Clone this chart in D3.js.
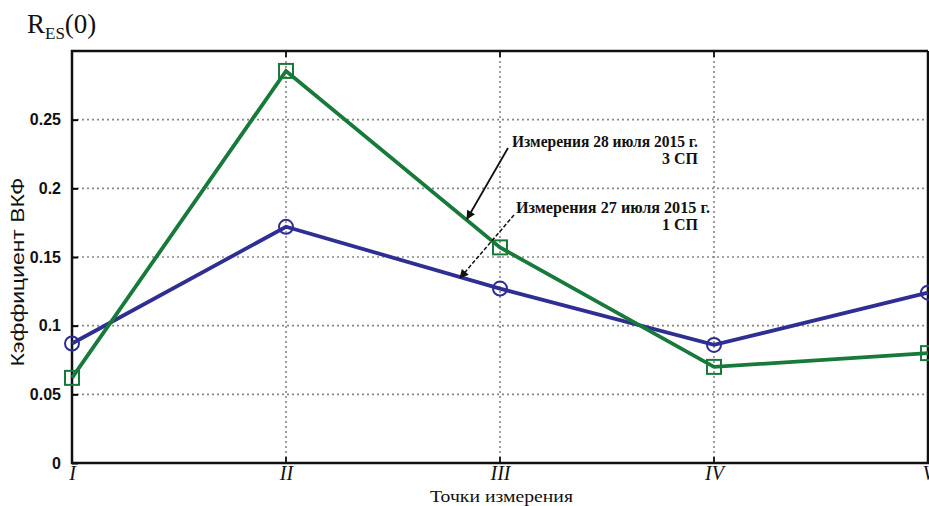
<!DOCTYPE html>
<html>
<head>
<meta charset="utf-8">
<script src="https://cdn.jsdelivr.net/npm/d3@7"></script>
<style>
  html, body { margin: 0; padding: 0; background: #fff; }
  svg { display: block; }
</style>
</head>
<body>
<svg id="chart" width="929" height="506"></svg>
<script>
// Measurement points and cross-correlation coefficients
const points = ["I", "II", "III", "IV", "V"];
const series27 = [0.087, 0.172, 0.127, 0.086, 0.124];   // 27 July 2015, 1 СП (circles)
const series28 = [0.062, 0.2855, 0.157, 0.070, 0.080];  // 28 July 2015, 3 СП (squares)
const yTicks = [0, 0.05, 0.1, 0.15, 0.2, 0.25];
const yTickLabels = ["0", "0.05", "0.1", "0.15", "0.2", "0.25"];

const svg = d3.select("#chart");
const margin = { left: 72, right: 1, top: 51, bottom: 43 };
const W = 929, H = 506;

const x = d3.scalePoint().domain(points).range([margin.left, W - margin.right]);
const y = d3.scaleLinear().domain([0, 0.3]).range([H - margin.bottom, margin.top]);

const blue = "#2f2e93";
const green = "#17793a";

// Dotted grid
const grid = svg.append("g");
grid.selectAll("line.h").data(yTicks.slice(1)).join("line")
  .attr("x1", margin.left).attr("x2", W - margin.right)
  .attr("y1", d => y(d)).attr("y2", d => y(d))
  .attr("stroke", "#888").attr("stroke-width", 1.6).attr("stroke-dasharray", "2,3");
grid.selectAll("line.v").data(points.slice(1, -1)).join("line")
  .attr("x1", d => x(d)).attr("x2", d => x(d))
  .attr("y1", margin.top).attr("y2", H - margin.bottom)
  .attr("stroke", "#888").attr("stroke-width", 1.6).attr("stroke-dasharray", "2,3");

// Axes
const yAxis = svg.append("g").attr("transform", `translate(${margin.left},0)`)
  .call(d3.axisLeft(y).tickValues(yTicks).tickFormat((d, i) => yTickLabels[i]).tickSize(6).tickPadding(5));
yAxis.select(".domain").remove();
yAxis.selectAll(".tick line").attr("x2", 6).attr("stroke-width", 2);
yAxis.selectAll("text").attr("font-family", "Liberation Sans Narrow, Liberation Sans, Arial, sans-serif")
  .attr("font-weight", "bold").attr("font-size", 16).attr("fill", "#111");

const xAxis = svg.append("g").attr("transform", `translate(0,${H - margin.bottom})`)
  .call(d3.axisBottom(x).tickSize(0).tickPadding(3));
xAxis.select(".domain").remove();
xAxis.selectAll("text").attr("font-family", "Liberation Serif, Times New Roman, serif")
  .attr("font-style", "italic").attr("font-size", 20).attr("fill", "#111").attr("dy", "0.72em");

// Tick marks on top and bottom edges
svg.selectAll("line.tt").data(points.slice(1, -1)).join("line")
  .attr("x1", d => x(d)).attr("x2", d => x(d))
  .attr("y1", margin.top).attr("y2", margin.top + 6)
  .attr("stroke", "#222").attr("stroke-width", 2);
svg.selectAll("line.bt").data(points.slice(1, -1)).join("line")
  .attr("x1", d => x(d)).attr("x2", d => x(d))
  .attr("y1", H - margin.bottom).attr("y2", H - margin.bottom - 6)
  .attr("stroke", "#222").attr("stroke-width", 2);

// Frame
const frame = d3.path();
frame.moveTo(W - margin.right, margin.top);
frame.lineTo(margin.left, margin.top);
frame.lineTo(margin.left, H - margin.bottom);
frame.lineTo(W - margin.right, H - margin.bottom);
frame.lineTo(W - margin.right, margin.top);
svg.append("path").attr("d", frame.toString()).attr("fill", "none")
  .attr("stroke", "#111").attr("stroke-width", 2.5);

// Series lines
const line = d3.line().x((d, i) => x(points[i])).y(d => y(d));
svg.append("path").datum(series27).attr("d", line).attr("fill", "none")
  .attr("stroke", blue).attr("stroke-width", 3.8);
svg.append("path").datum(series28).attr("d", line).attr("fill", "none")
  .attr("stroke", green).attr("stroke-width", 3.8);

// Markers
svg.selectAll("circle.m").data(series27).join("circle")
  .attr("cx", (d, i) => x(points[i])).attr("cy", d => y(d)).attr("r", 7)
  .attr("fill", "none").attr("stroke", blue).attr("stroke-width", 2);
svg.selectAll("rect.m").data(series28).join("rect")
  .attr("x", (d, i) => x(points[i]) - 7).attr("y", d => y(d) - 7)
  .attr("width", 14).attr("height", 14)
  .attr("fill", "none").attr("stroke", green).attr("stroke-width", 2);

// Annotations
const defs = svg.append("defs");
defs.append("marker").attr("id", "arrow").attr("viewBox", "0 0 10 10")
  .attr("refX", 9).attr("refY", 5).attr("markerWidth", 10).attr("markerHeight", 9)
  .attr("orient", "auto").attr("markerUnits", "userSpaceOnUse")
  .append("path").attr("d", "M0,0 L10,5 L0,10 z").attr("fill", "#111");

const annFont = "Liberation Serif, Times New Roman, serif";
function note(text, xl, y0, len) {
  svg.append("text").attr("font-family", annFont).attr("font-weight", "bold")
    .attr("font-size", 16).attr("fill", "#111")
    .attr("x", xl).attr("y", y0)
    .attr("textLength", len).attr("lengthAdjust", "spacingAndGlyphs").text(text);
}
function noteRight(text, xr, y0) {
  svg.append("text").attr("font-family", annFont).attr("font-weight", "bold")
    .attr("font-size", 16).attr("fill", "#111").attr("text-anchor", "end")
    .attr("x", xr).attr("y", y0).text(text);
}
note("Измерения 28 июля 2015 г.", 512, 147, 186);
noteRight("3 СП", 698, 164);
note("Измерения 27 июля 2015 г.", 516, 213, 194);
noteRight("1 СП", 698, 230);

svg.append("line").attr("x1", 508).attr("y1", 148).attr("x2", 467).attr("y2", 219)
  .attr("stroke", "#111").attr("stroke-width", 1.8).attr("marker-end", "url(#arrow)");
svg.append("line").attr("x1", 514).attr("y1", 215).attr("x2", 460).attr("y2", 278)
  .attr("stroke", "#111").attr("stroke-width", 1.5).attr("stroke-dasharray", "4,2")
  .attr("marker-end", "url(#arrow)");

// Titles
const ttl = svg.append("text").attr("x", 27).attr("y", 33)
  .attr("font-family", annFont).attr("font-size", 27).attr("fill", "#111");
ttl.append("tspan").text("R");
ttl.append("tspan").attr("font-size", 17).attr("dy", 6).text("ES");
ttl.append("tspan").attr("dy", -6).text("(0)");

svg.append("text").attr("transform", "translate(24,272) rotate(-90)")
  .attr("text-anchor", "middle").attr("font-family", "Liberation Sans, Arial, sans-serif")
  .attr("font-size", 18).attr("fill", "#111")
  .attr("textLength", 189).attr("lengthAdjust", "spacingAndGlyphs")
  .text("Кэффициент ВКФ");

svg.append("text").attr("x", 430).attr("y", 502)
  .attr("font-family", annFont).attr("font-size", 16).attr("fill", "#111")
  .attr("textLength", 143).attr("lengthAdjust", "spacingAndGlyphs")
  .text("Точки измерения");
</script>
</body>
</html>
